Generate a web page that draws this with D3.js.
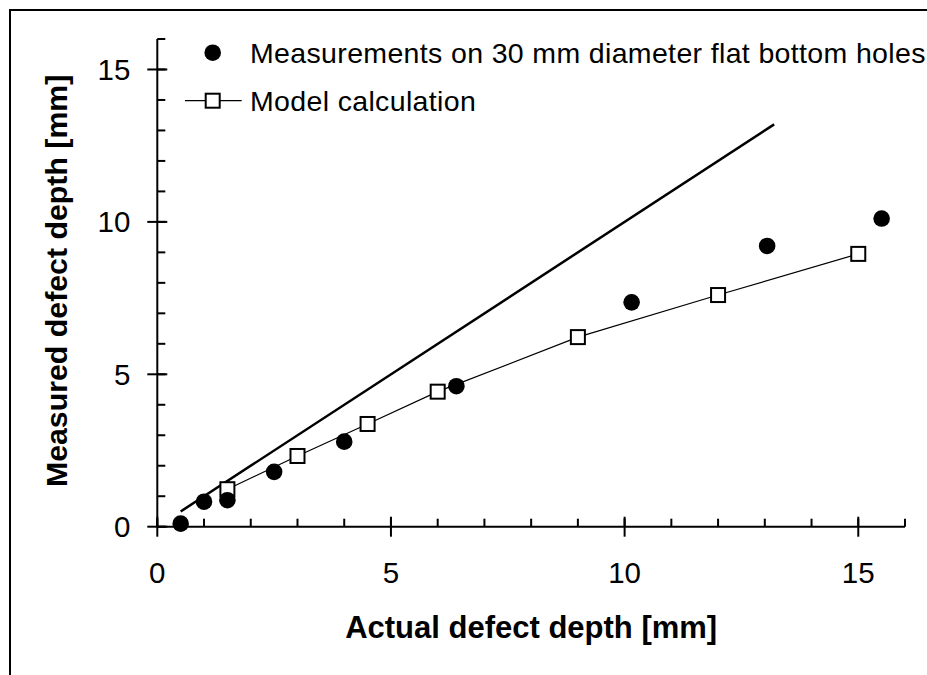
<!DOCTYPE html>
<html>
<head>
<meta charset="utf-8">
<script src="https://cdn.jsdelivr.net/npm/d3@7"></script>
<style>
  body { margin: 0; background: #fff; }
  svg { display: block; font-family: "Liberation Sans", Arial, sans-serif; }
</style>
</head>
<body>
<svg id="chart" width="927" height="675"></svg>
<script>
// measurements on 30 mm diameter flat bottom holes
const measX = [0.5, 1.0, 1.5, 2.5, 4.0, 6.4, 10.15, 13.05, 15.5];
const measY = [0.1, 0.82, 0.87, 1.8, 2.79, 4.61, 7.36, 9.21, 10.11];
// model calculation
const modelX = [1.5, 3, 4.5, 6, 9, 12, 15];
const modelY = [1.23, 2.32, 3.37, 4.43, 6.22, 7.6, 8.95];
// ideal line (measured = actual)
const idealX = [0.5, 13.2];
const idealY = [0.5, 13.2];

const xTicks = [0, 5, 10, 15];
const yTicks = [0, 5, 10, 15];
const minorTicks = d3.range(0, 17, 1);

const legendLabels = ["Measurements on 30 mm diameter flat bottom holes", "Model calculation"];
const xLabel = "Actual defect depth [mm]";
const yLabel = "Measured defect depth [mm]";

const svg = d3.select("#chart");

// outer frame
svg.append("rect")
    .attr("x", 10).attr("y", 10)
    .attr("width", 1000).attr("height", 1000)
    .attr("fill", "none").attr("stroke", "#000").attr("stroke-width", 2);

const x = d3.scaleLinear().domain([0, 16]).range([157.3, 905]);
const y = d3.scaleLinear().domain([0, 16]).range([526.7, 39]);

const g = svg.append("g");

// minor ticks (inward)
g.selectAll(".xminor").data(minorTicks).enter().append("line")
    .attr("x1", d => x(d)).attr("x2", d => x(d))
    .attr("y1", y(0)).attr("y2", y(0) - 8)
    .attr("stroke", "#000").attr("stroke-width", 2);
g.selectAll(".yminor").data(minorTicks).enter().append("line")
    .attr("x1", x(0)).attr("x2", x(0) + 8)
    .attr("y1", d => y(d)).attr("y2", d => y(d))
    .attr("stroke", "#000").attr("stroke-width", 2);

// major ticks crossing the axis
g.selectAll(".xmajor").data(xTicks).enter().append("line")
    .attr("x1", d => x(d)).attr("x2", d => x(d))
    .attr("y1", y(0) - 10).attr("y2", y(0) + 10)
    .attr("stroke", "#000").attr("stroke-width", 2);
g.selectAll(".ymajor").data(yTicks).enter().append("line")
    .attr("x1", x(0) - 10).attr("x2", x(0) + 10)
    .attr("y1", d => y(d)).attr("y2", d => y(d))
    .attr("stroke", "#000").attr("stroke-width", 2);

// axis lines
g.append("line")
    .attr("x1", x(0)).attr("x2", x(16))
    .attr("y1", y(0)).attr("y2", y(0))
    .attr("stroke", "#000").attr("stroke-width", 2);
g.append("line")
    .attr("x1", x(0)).attr("x2", x(0))
    .attr("y1", y(0)).attr("y2", y(16))
    .attr("stroke", "#000").attr("stroke-width", 2);

// tick labels
g.selectAll(".xlab").data(xTicks).enter().append("text")
    .attr("x", d => x(d)).attr("y", y(0) + 56)
    .attr("text-anchor", "middle")
    .style("font-size", "29.5px")
    .text(d => d);
g.selectAll(".ylab").data(yTicks).enter().append("text")
    .attr("x", x(0) - 27).attr("y", d => y(d) + 10.5)
    .attr("text-anchor", "end")
    .style("font-size", "29.5px")
    .text(d => d);

// axis titles
g.append("text")
    .attr("x", (x(0) + x(16)) / 2).attr("y", 638)
    .attr("text-anchor", "middle")
    .style("font-size", "31px").style("font-weight", "bold")
    .text(xLabel);
g.append("text")
    .attr("transform", `translate(67,${(y(0) + y(16)) / 2 - 2}) rotate(-90)`)
    .attr("text-anchor", "middle")
    .style("font-size", "30.3px").style("font-weight", "bold")
    .text(yLabel);

// ideal line
const ideal = idealX.map((d, i) => [d, idealY[i]]);
g.append("path")
    .attr("d", d3.line().x(d => x(d[0])).y(d => y(d[1]))(ideal))
    .attr("fill", "none").attr("stroke", "#000").attr("stroke-width", 2.5);

// model line + squares
const model = modelX.map((d, i) => [d, modelY[i]]);
g.append("path")
    .attr("d", d3.line().x(d => x(d[0])).y(d => y(d[1]))(model))
    .attr("fill", "none").attr("stroke", "#000").attr("stroke-width", 1.2);
const sq = 14;
g.selectAll(".sq").data(model).enter().append("rect")
    .attr("x", d => x(d[0]) - sq / 2).attr("y", d => y(d[1]) - sq / 2)
    .attr("width", sq).attr("height", sq)
    .attr("fill", "#fff").attr("stroke", "#000").attr("stroke-width", 2);

// measurements
const meas = measX.map((d, i) => [d, measY[i]]);
g.selectAll(".dot").data(meas).enter().append("circle")
    .attr("cx", d => x(d[0])).attr("cy", d => y(d[1]))
    .attr("r", 8.3).attr("fill", "#000");

// legend
const lg = svg.append("g");
lg.append("circle").attr("cx", 212.7).attr("cy", 52.7).attr("r", 8.3).attr("fill", "#000");
lg.append("line").attr("x1", 185).attr("x2", 241.7).attr("y1", 100.7).attr("y2", 100.7)
    .attr("stroke", "#000").attr("stroke-width", 1.2);
lg.append("rect").attr("x", 212.7 - sq / 2).attr("y", 100.7 - sq / 2)
    .attr("width", sq).attr("height", sq)
    .attr("fill", "#fff").attr("stroke", "#000").attr("stroke-width", 2);
lg.selectAll(".lt").data(legendLabels).enter().append("text")
    .attr("x", 250).attr("y", (d, i) => 63 + i * 48)
    .style("font-size", "28.5px")
    .style("letter-spacing", "0.35px")
    .text(d => d);
</script>
</body>
</html>
